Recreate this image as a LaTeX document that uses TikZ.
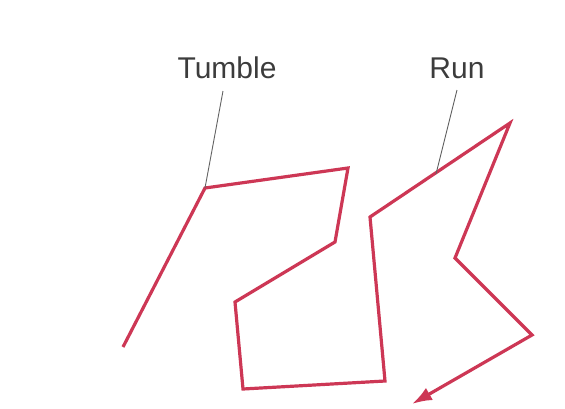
\documentclass[tikz,border=0pt]{standalone}
\usepackage{fontspec}
\setmainfont{Liberation Sans}
\usetikzlibrary{arrows.meta}
\definecolor{pathred}{RGB}{205,55,85}
\definecolor{labelgray}{RGB}{60,60,60}
\tikzset{
  walk/.style={draw=pathred, line width=3.2pt, line join=miter, line cap=butt},
  lbl/.style={text=labelgray, font=\fontsize{30}{34}\selectfont, inner sep=0pt},
  leader/.style={draw=labelgray!80, line width=0.9pt}
}
\begin{document}
\begin{tikzpicture}[x=1pt,y=-1pt]
\useasboundingbox (0,0) rectangle (565,408);
\coordinate (p0) at (123,347);
\coordinate (p1) at (205,188);
\coordinate (p2) at (348,168);
\coordinate (p3) at (335,242);
\coordinate (p4) at (235,302);
\coordinate (p5) at (243,389);
\coordinate (p6) at (385,381);
\coordinate (p7) at (370,217);
\coordinate (p8) at (510,123);
\coordinate (p9) at (455,258);
\coordinate (p10) at (532,335);
\coordinate (p11) at (412,404);
\coordinate (runpt) at (436,174);
\draw[walk, -{Latex[length=20pt,width=14pt]}] (p0) -- (p1) -- (p2) -- (p3) -- (p4) -- (p5) -- (p6) -- (p7) -- (p8) -- (p9) -- (p10) -- (p11);
\node[lbl] (tumble) at (227,68) {Tumble};
\node[lbl] (run) at (457,68) {Run};
\coordinate (tumbleend) at (223,91);
\coordinate (runend) at (457,90);
\draw[leader] (tumbleend) -- (p1);
\draw[leader] (runend) -- (runpt);
\end{tikzpicture}
\end{document}
